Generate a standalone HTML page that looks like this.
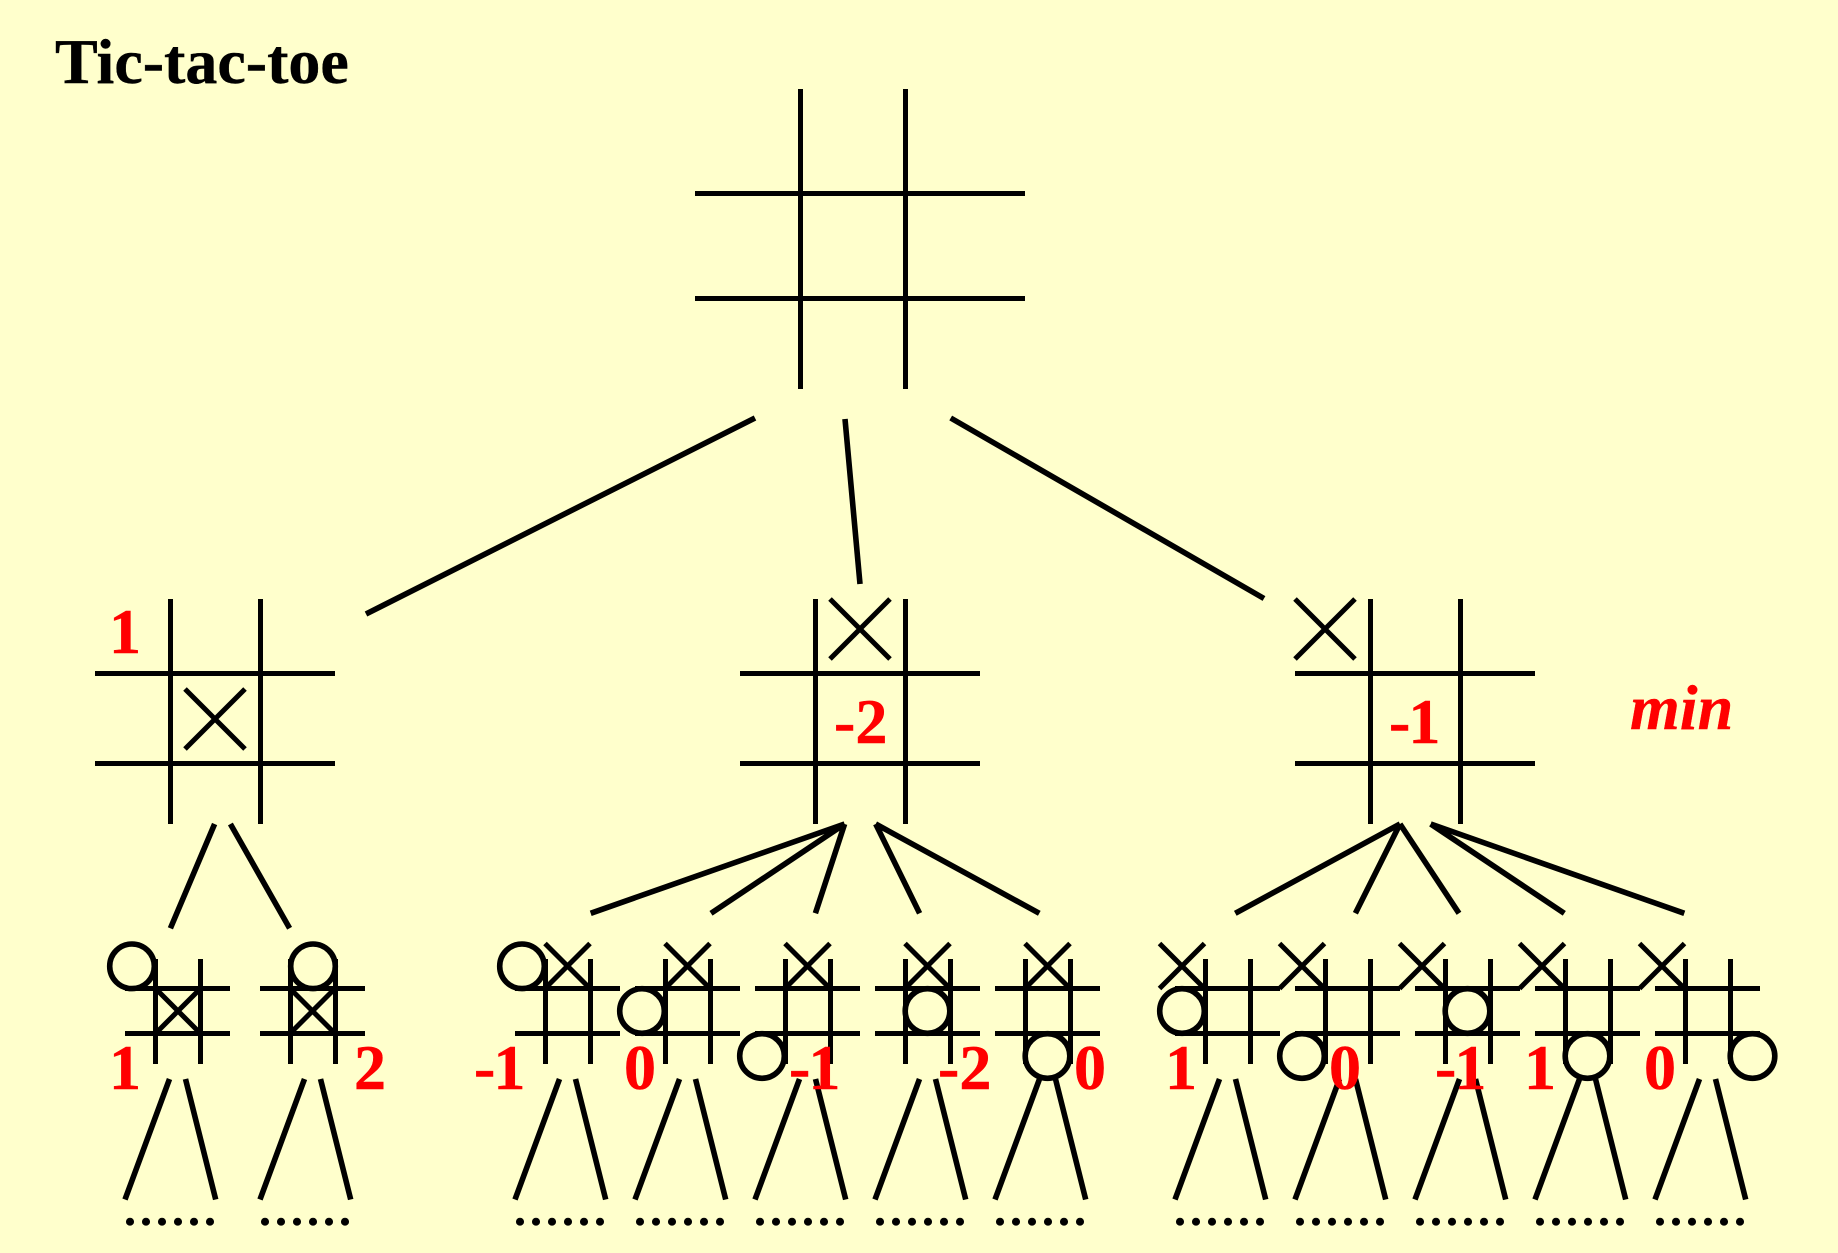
<!DOCTYPE html>
<html>
<head>
<meta charset="utf-8">
<title>Tic-tac-toe</title>
<style>
html,body{margin:0;padding:0;background:#ffffcc;width:1838px;height:1253px;overflow:hidden}
svg{display:block}
text{font-family:"Liberation Serif",serif}
.t{font-size:64px;font-weight:bold;fill:#000;stroke:#000;stroke-width:.4px}
.r{font-size:64px;font-weight:bold;fill:#f00;stroke:#f00;stroke-width:.5px}
.n{letter-spacing:-2px}
.m{font-size:64px;font-weight:bold;font-style:italic;fill:#f00;stroke:#f00;stroke-width:.4px}
.d{font-size:64px;fill:#000;stroke:#000;stroke-width:.5px}
</style>
</head>
<body>
<svg width="1838" height="1253" viewBox="0 0 1838 1253" xmlns="http://www.w3.org/2000/svg">
<rect width="1838" height="1253" fill="#ffffcc"/>
<defs>
<g id="k" fill="none" stroke="#000">
<path stroke-width="5" d="M30.5 959V1064M75.5 959V1064M0 988.5H105M0 1033.5H105"/>
<path stroke-width="5.6" d="M44.5 1079L0 1199.5M60.5 1079L90.7 1199.5"/>
</g>
<path id="x" d="M-22.5 -22.5L22.5 22.5M22.5 -22.5L-22.5 22.5" fill="none" stroke="#000" stroke-width="5"/>
<path id="X" d="M-30 -30L30 30M30 -30L-30 30" fill="none" stroke="#000" stroke-width="5"/>
<g id="L" fill="none" stroke="#000" stroke-width="5">
<path d="M75.5 599V824M165.5 599V824M0 673.5H240M0 763.5H240"/>
</g>
</defs>

<text class="t" x="55" y="83">Tic-tac-toe</text>

<path d="M800.5 89V389M905.5 89V389M695 193.5H1025M695 298.5H1025" fill="none" stroke="#000" stroke-width="5"/>
<path d="M755 418L366 614M845 419L860 584M950.7 418L1264 598.5" fill="none" stroke="#000" stroke-width="5.6"/>

<use href="#L" x="95"/>
<use href="#L" x="740"/>
<use href="#L" x="1295"/>
<use href="#X" x="215" y="719"/>
<use href="#X" x="860" y="629"/>
<use href="#X" x="1325" y="629"/>

<g fill="none" stroke="#000" stroke-width="5.6">
<path d="M214.6 824L170.4 928.3M230.4 824L289.6 928.3"/>
<path d="M844.6 824L590.7 913.3M844.6 824L711 913.3M844.6 824L815.4 913.3M875.7 824L919.6 913.3M875.7 824L1039.3 913.3"/>
<path d="M1400 824L1235.3 913.3M1400 824L1355.4 913.3M1400 824L1459 913.3M1430.7 824L1564.3 913.3M1430.7 824L1684.3 913.3"/>
</g>

<use href="#k" x="125"/>
<use href="#k" x="260"/>
<use href="#k" x="515"/>
<use href="#k" x="635"/>
<use href="#k" x="755"/>
<use href="#k" x="875"/>
<use href="#k" x="995"/>
<use href="#k" x="1175"/>
<use href="#k" x="1295"/>
<use href="#k" x="1415"/>
<use href="#k" x="1535"/>
<use href="#k" x="1655"/>

<use href="#x" x="178" y="1011"/>
<use href="#x" x="312.5" y="1011"/>
<use href="#x" x="567.5" y="966"/>
<use href="#x" x="687.5" y="966"/>
<use href="#x" x="807.5" y="966"/>
<use href="#x" x="927.5" y="966"/>
<use href="#x" x="1047.5" y="966"/>
<use href="#x" x="1182" y="966"/>
<use href="#x" x="1302" y="966"/>
<use href="#x" x="1422" y="966"/>
<use href="#x" x="1542" y="966"/>
<use href="#x" x="1662" y="966"/>

<g fill="none" stroke="#000" stroke-width="5.6">
<circle cx="132" cy="966.3" r="22.3"/>
<circle cx="313" cy="966.3" r="22.3"/>
<circle cx="522" cy="966.3" r="22.3"/>
<circle cx="642" cy="1011" r="22.3"/>
<circle cx="762" cy="1056" r="22.3"/>
<circle cx="927.5" cy="1011" r="22.3"/>
<circle cx="1047.5" cy="1056" r="22.3"/>
<circle cx="1182" cy="1011" r="22.3"/>
<circle cx="1302" cy="1056" r="22.3"/>
<circle cx="1467.5" cy="1011" r="22.3"/>
<circle cx="1587.5" cy="1056" r="22.3"/>
<circle cx="1752.5" cy="1056" r="22.3"/>
</g>

<text class="r" x="109" y="653">1</text>
<text class="r" x="834" y="743">-2</text>
<text class="r n" x="1389" y="743">-1</text>
<text class="m" x="1630" y="729">min</text>

<text class="r" x="109" y="1089">1</text>
<text class="r" x="354" y="1089">2</text>
<text class="r n" x="474" y="1089">-1</text>
<text class="r" x="624" y="1089">0</text>
<text class="r n" x="789" y="1089">-1</text>
<text class="r" x="938" y="1089">-2</text>
<text class="r" x="1074" y="1089">0</text>
<text class="r" x="1165" y="1089">1</text>
<text class="r" x="1329" y="1089">0</text>
<text class="r n" x="1435" y="1089">-1</text>
<text class="r" x="1524" y="1089">1</text>
<text class="r" x="1644" y="1089">0</text>

<text class="d" x="122" y="1224.5">......</text>
<text class="d" x="257" y="1224.5">......</text>
<text class="d" x="512" y="1224.5">......</text>
<text class="d" x="632" y="1224.5">......</text>
<text class="d" x="752" y="1224.5">......</text>
<text class="d" x="872" y="1224.5">......</text>
<text class="d" x="992" y="1224.5">......</text>
<text class="d" x="1172" y="1224.5">......</text>
<text class="d" x="1292" y="1224.5">......</text>
<text class="d" x="1412" y="1224.5">......</text>
<text class="d" x="1532" y="1224.5">......</text>
<text class="d" x="1652" y="1224.5">......</text>
</svg>
</body>
</html>
